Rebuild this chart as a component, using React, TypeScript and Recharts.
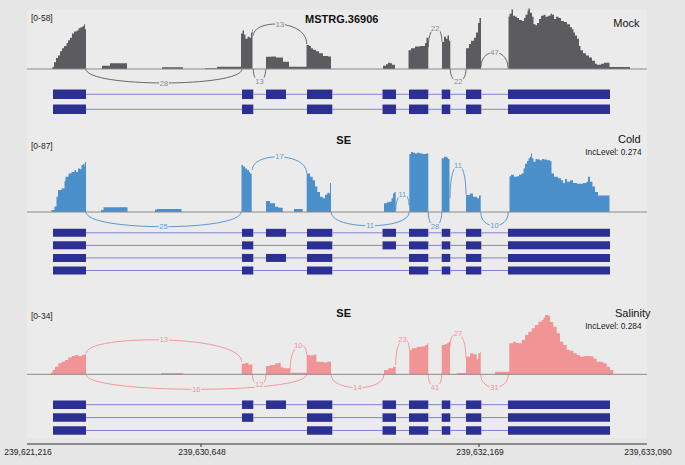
import React from 'react';
import { ComposedChart, Area, XAxis, YAxis, ReferenceArea, ReferenceLine } from 'recharts';

type Pt = [number, number];
type Junction = { x1: number; x2: number; n: number; yL: number; peak: number; yR: number };

// x positions are in the plot's shrunk-intron position units (0..620)
const exons: [number, number][] = [
  [26, 59], [215, 226.3], [239, 259], [280, 305.3], [355.5, 369],
  [382, 401.3], [414.7, 423.3], [439, 454.3], [481, 583],
];

const mockTranscripts = [[1, 2, 3, 4, 5, 6, 7, 8, 9], [1, 2, 4, 5, 6, 7, 8, 9]];
const coldTranscripts = [
  [1, 2, 3, 4, 5, 6, 7, 8, 9], [1, 2, 4, 5, 6, 7, 8, 9],
  [1, 2, 3, 4, 6, 7, 8, 9], [1, 2, 4, 6, 7, 8, 9],
];
const salinityTranscripts = [[1, 2, 3, 4, 5, 6, 7, 8, 9], [1, 2, 4, 5, 6, 7, 8, 9], [1, 4, 5, 6, 7, 8, 9]];

const mockCoverage: Pt[] = [
  [25.5, 2], [27, 6.5], [29, 10.5], [31, 13], [33, 17], [35, 20], [37, 22], [39.5, 25], [41, 27.5], [43, 30],
  [45, 34], [47, 36], [49.5, 37], [51.5, 39], [53.5, 40], [55.5, 41], [57, 43], [58, 38], [59, 0],
  [75, 3], [83, 5.5], [100, 0], [135, 1.6], [156, 0], [178, 0.6], [190, 2.2],
  [214, 34], [215.5, 37], [217, 33], [218.5, 29], [220.5, 31], [222.5, 30], [224, 35], [225, 38], [225.5, 0],
  [239, 11.7], [244, 12], [249, 11], [256, 7], [262, 2.2],
  [279.5, 23], [282, 22], [284, 20], [286, 18.5], [289, 17], [292, 15], [296, 12.5], [301, 12], [304, 0],
  [356, 3], [359, 4.5], [361, 6], [363, 5.5], [365, 4], [368, 0],
  [381.5, 18], [384, 20], [388, 21.5], [393, 22], [398, 25], [399.5, 30], [401.3, 0],
  [415, 26], [417, 31], [419, 29], [420.5, 32], [422, 27], [423.3, 0],
  [439, 20], [442, 24], [444, 27], [447, 30], [449, 35], [451, 44], [452.5, 49], [454, 0],
  [481.5, 50], [482.5, 53], [484.5, 57], [486, 51], [488, 50], [490, 49], [492, 47], [495, 46], [497, 49],
  [498.5, 52], [500.5, 56], [501.5, 58], [503, 54], [505, 50], [506.5, 43], [508.5, 42], [510, 44], [512, 48],
  [514, 51], [516.5, 52], [518.5, 50], [521, 51], [523.5, 53], [525, 52], [527, 48], [529, 50], [531.5, 49],
  [534, 46], [537, 45], [540, 43], [543, 40], [545, 38], [546.5, 35], [548, 32], [550, 29], [552, 22],
  [553.5, 18], [556, 15], [559, 13], [562, 11], [565, 8], [568, 5], [570, 4], [574, 5], [577, 6], [582.5, 1.8], [603, 0],
];

const coldCoverage: Pt[] = [
  [24.5, 3], [27.5, 8], [29.5, 22], [31, 32], [34.5, 34], [37.5, 45], [38.5, 51], [41.5, 56], [44.5, 58],
  [47.5, 61], [49, 58], [51, 63], [53, 62], [54.5, 68], [56, 70], [57.5, 66], [58, 73], [59, 0],
  [74, 3], [76.5, 6.8], [100.5, 0], [128, 3.5], [130, 4.5], [154.5, 0],
  [214.5, 68], [216, 66], [218, 63], [220, 61], [222, 58], [223, 56], [224.7, 0],
  [239, 16], [243, 12.6], [248, 7.7], [251.3, 6.3], [255.7, 0], [267, 4.3], [275.7, 0],
  [279.7, 56], [283, 51], [285.7, 46], [288, 37], [290.3, 29], [293, 22], [295.7, 20], [298, 25], [300.3, 28],
  [302.3, 27], [303, 42], [304, 0],
  [357, 12.6], [360, 14], [362, 15], [364.5, 20], [366, 27], [367.5, 29], [368.7, 0],
  [382.3, 84], [384, 87], [386, 86], [388, 85], [390, 86], [393, 85], [396, 84], [399, 85], [401.3, 0],
  [414.7, 78], [417, 80], [419.5, 79], [421, 77], [422.5, 0],
  [439, 24.6], [443, 27], [446, 22], [450, 20], [452, 24], [453.7, 0],
  [482.5, 52], [484, 54], [487, 51], [490, 52], [492, 54], [494.5, 56], [496.5, 63], [498, 70], [500, 74],
  [501.5, 78], [503, 80], [504, 85], [505, 78], [506.5, 73], [508.5, 77], [510.5, 76], [513, 75], [515, 77],
  [517, 76], [520, 75], [523, 74], [524.5, 56], [527, 51], [531, 49], [534, 46], [536, 42], [538, 48],
  [540, 44], [543, 46], [546, 42], [550, 41], [556, 42], [559.5, 44], [561, 51], [563, 44], [565.5, 37],
  [568, 29], [571, 24], [582.5, 0],
];

const salinityCoverage: Pt[] = [
  [24, 1], [25.7, 2.5], [28, 4.4], [31.3, 6.3], [34.7, 7.2], [38, 8.2], [41.3, 9.7], [44.7, 10.5], [48, 11],
  [51.3, 10.3], [54.7, 11], [58, 11.5], [59, 0], [134, 0.8], [156.3, 0],
  [214.7, 6], [218, 6.5], [221.5, 5.5], [223.5, 5.7], [225.3, 0],
  [239, 4.8], [243, 5.3], [248, 6.2], [251.3, 6.6], [253.7, 4], [256.3, 3.4], [263, 0.9],
  [279.7, 11], [283, 10.8], [286, 11.2], [289.3, 7.2], [293, 7], [297, 6.8], [300, 7.2], [304, 0],
  [357, 2.5], [361.3, 3.4], [366, 4.4], [368.7, 0],
  [382.3, 13.9], [384.7, 14.9], [389.7, 15.8], [394.7, 16], [398, 16.8], [400.3, 17.8], [401.3, 0],
  [414.7, 16.8], [418, 17.3], [420, 17.8], [421.5, 18.5], [423, 0],
  [429.7, 0.8], [439, 10], [443, 12], [446.3, 11.5], [449.7, 8.6], [451.3, 12], [453, 13], [453.7, 0],
  [468, 1.5], [482.3, 17.8], [486.3, 18.7], [489, 18], [491.3, 17.8], [494.7, 19.7], [498, 22.5], [501.3, 24.4],
  [504.7, 26.4], [508, 28.2], [511.3, 30.1], [514.7, 31.1], [516.5, 32.5], [518, 34], [521.3, 33.5], [523, 30],
  [526.3, 27.3], [529.7, 23.5], [533, 18.7], [536.3, 16.8], [539.7, 13.9], [543, 13.5], [546.3, 12], [549.7, 11],
  [553, 10], [556.3, 10.5], [563, 10.3], [566.3, 9], [569.7, 7.2], [576.3, 6.3], [579.7, 4.4], [583, 2.5], [586.3, 0],
];

const mockJunctions: Junction[] = [
  { x1: 59, x2: 215, n: 28, yL: 0, peak: -13.4, yR: 0 },
  { x1: 226.3, x2: 279.7, n: 13, yL: 32, peak: 43, yR: 24 },
  { x1: 226.3, x2: 238.7, n: 13, yL: 0, peak: -11.5, yR: 0 },
  { x1: 401.3, x2: 415, n: 22, yL: 21, peak: 39, yR: 26 },
  { x1: 423.3, x2: 439, n: 22, yL: 0, peak: -12, yR: 0 },
  { x1: 454, x2: 481, n: 47, yL: 2, peak: 16, yR: 1 },
];
const coldJunctions: Junction[] = [
  { x1: 59, x2: 214, n: 25, yL: 0, peak: -21.3, yR: 0 },
  { x1: 225.3, x2: 279.7, n: 17, yL: 61, peak: 80, yR: 56 },
  { x1: 304, x2: 382.3, n: 11, yL: 0, peak: -20, yR: 0 },
  { x1: 368.7, x2: 382, n: 11, yL: 2, peak: 26, yR: 10 },
  { x1: 401.3, x2: 414.7, n: 28, yL: 0, peak: -21, yR: 0 },
  { x1: 423, x2: 439, n: 11, yL: 20, peak: 68, yR: 25 },
  { x1: 453.7, x2: 481.3, n: 10, yL: 0, peak: -20, yR: 0 },
];
const salinityJunctions: Junction[] = [
  { x1: 59, x2: 214.7, n: 13, yL: 12, peak: 19.7, yR: 7.2 },
  { x1: 59, x2: 279.7, n: 16, yL: 0, peak: -8.6, yR: 0 },
  { x1: 225.3, x2: 239, n: 12, yL: 0, peak: -6.1, yR: 0 },
  { x1: 263, x2: 279.7, n: 10, yL: 1.5, peak: 16.5, yR: 11 },
  { x1: 304, x2: 357, n: 14, yL: 0, peak: -7.7, yR: 0 },
  { x1: 368.7, x2: 382.3, n: 23, yL: 5.3, peak: 20, yR: 14 },
  { x1: 401.3, x2: 414.7, n: 41, yL: 0, peak: -7.5, yR: 0 },
  { x1: 423, x2: 439, n: 27, yL: 15.8, peak: 23.5, yR: 9.2 },
  { x1: 453.7, x2: 481.3, n: 31, yL: 0, peak: -7.5, yR: 0 },
];

const axisTicks = [0, 174, 452, 620];
const axisLabels = ['239,621,216', '239,630,648', '239,632,169', '239,633,090'];

const geneName = 'MSTRG.36906';
const sampleNames = ['Mock', 'Cold', 'Salinity'];
const yRanges = [58, 87, 34];
const incLevels = ['', '0.274', '0.284'];

const FONT = '"Liberation Sans", Arial, Helvetica, sans-serif';
const OUTER_BG = '#e7e6e6';
const PANEL_BG = '#ecebeb';
const EXON = '#2c3092';
const INTRON = '#8282d6';

interface PanelCfg {
  top: number; bottom: number; base: number; peakPx: number; ymax: number;
  row0: number; rowGap: number; exonH: number; axis?: boolean;
  coverage: Pt[]; junctions: Junction[]; transcripts: number[][];
  fill: string; arc: string; label: string;
}

function arcShape(j: Junction, color: string, labelColor: string) {
  return (p: any) => {
    const { x, y, width, height } = p;
    if (x == null || y == null) return <g />;
    const up = j.peak > 0;
    const pix0 = up ? y + height : y;
    const pixPeak = up ? y : y + height;
    const per = (pix0 - pixPeak) / j.peak;
    const toPx = (v: number) => pix0 - v * per;
    const xa = x;
    const xb = x + width;
    const ya = toPx(j.yL);
    const yb = toPx(j.yR);
    const ym = pixPeak;
    const c = (8 * ym - ya - yb) / 6;
    const d = `M${xa},${ya} C${xa},${c} ${xb},${c} ${xb},${yb}`;
    const mx = (xa + xb) / 2;
    const label = String(j.n);
    const w = label.length * 3.6 + 2.5;
    return (
      <g>
        <path d={d} fill="none" stroke={color} strokeWidth={0.9} />
        <rect x={mx - w / 2} y={ym - 3.5} width={w} height={7} fill={PANEL_BG} />
        <text x={mx} y={ym} dy="0.34em" textAnchor="middle" fontSize={7.5}
          fontFamily={'"Liberation Sans Narrow", ' + FONT} fill={labelColor}>{label}</text>
      </g>
    );
  };
}

function AxisTick(props: any) {
  const { x, payload, index, axisY } = props;
  const v = payload?.value;
  const label = axisLabels[axisTicks.indexOf(v)] ?? '';
  const interior = index > 0 && index < axisTicks.length - 1;
  return (
    <g>
      {interior && <line x1={x} x2={x} y1={axisY} y2={axisY + 3} stroke="#333" />}
      <text x={x + 1} y={axisY + 5} dy="0.71em" textAnchor="middle" fontSize={8.5} fill="#222" fontFamily={FONT}>{label}</text>
    </g>
  );
}

function Panel({ cfg }: { cfg: PanelCfg }) {
  const k = (cfg.base - cfg.peakPx) / cfg.ymax;
  const plotH = cfg.bottom - cfg.top;
  const covDomain = [-(cfg.bottom - cfg.base) / k, (cfg.base - cfg.top) / k];
  const txDomain = [(cfg.top - cfg.row0) / cfg.rowGap, (cfg.bottom - cfg.row0) / cfg.rowGap];
  const half = cfg.exonH / 2 / cfg.rowGap;
  const data = cfg.coverage.map(([x, v]) => ({ x, v }));
  const axisH = cfg.axis ? 22 : 0;

  const introns: React.ReactNode[] = [];
  const exonRects: React.ReactNode[] = [];
  cfg.transcripts.forEach((tr, r) => {
    for (let i = 0; i < tr.length - 1; i++) {
      const a = exons[tr[i] - 1][1];
      const b = exons[tr[i + 1] - 1][0];
      introns.push(
        <ReferenceLine key={`in-${r}-${i}`} yAxisId="tx" ifOverflow="visible"
          segment={[{ x: a, y: r }, { x: b, y: r }]} stroke={INTRON} strokeWidth={1} />
      );
    }
    tr.forEach((e, i) => {
      const [s, t] = exons[e - 1];
      exonRects.push(
        <ReferenceArea key={`ex-${r}-${i}`} yAxisId="tx" ifOverflow="visible" x1={s} x2={t}
          y1={r - half} y2={r + half} fill={EXON} fillOpacity={1} stroke="none" />
      );
    });
  });

  return (
    <div style={{ position: 'absolute', left: 0, top: cfg.top }}>
      <ComposedChart width={685} height={plotH + axisH} data={data}
        margin={{ top: 0, right: 38, bottom: 0, left: 27 }}>
        <XAxis dataKey="x" type="number" domain={[0, 620]} allowDataOverflow hide={!cfg.axis}
          ticks={axisTicks} interval={0} height={cfg.axis ? axisH : 0}
          tick={(p: any) => <AxisTick {...p} axisY={plotH} />} tickLine={false}
          tickSize={3} tickMargin={3} axisLine={{ stroke: '#333' }} />
        <YAxis yAxisId="cov" type="number" domain={covDomain} allowDataOverflow hide />
        <YAxis yAxisId="tx" type="number" domain={txDomain} allowDataOverflow reversed hide />
        <Area yAxisId="cov" dataKey="v" type="stepAfter" baseValue={0} fill={cfg.fill} fillOpacity={1}
          stroke="none" isAnimationActive={false} dot={false} activeDot={false} />
        <ReferenceLine yAxisId="cov" y={0} stroke="#8a8a8a" strokeWidth={1} />
        {cfg.junctions.map((j, i) => (
          <ReferenceArea key={`j-${i}`} yAxisId="cov" ifOverflow="visible" x1={j.x1} x2={j.x2}
            y1={0} y2={j.peak} shape={arcShape(j, cfg.arc, cfg.label)} />
        ))}
        {introns}
        {exonRects}
      </ComposedChart>
    </div>
  );
}

const panels: PanelCfg[] = [
  {
    top: 0, bottom: 125, base: 69, peakPx: 8.5, ymax: yRanges[0], row0: 94.3, rowGap: 15, exonH: 9.5,
    coverage: mockCoverage, junctions: mockJunctions, transcripts: mockTranscripts,
    fill: '#5c5c60', arc: '#58585c', label: '#8a8a8a',
  },
  {
    top: 125, bottom: 285, base: 212, peakPx: 152, ymax: yRanges[1], row0: 232.8, rowGap: 12.57, exonH: 8,
    coverage: coldCoverage, junctions: coldJunctions, transcripts: coldTranscripts,
    fill: '#4b8fcb', arc: '#4b8fcb', label: '#5f9bd2',
  },
  {
    top: 285, bottom: 444, base: 374.3, peakPx: 315, ymax: yRanges[2], row0: 404.7, rowGap: 12.9, exonH: 8.5,
    axis: true, coverage: salinityCoverage, junctions: salinityJunctions, transcripts: salinityTranscripts,
    fill: '#f09496', arc: '#f08e91', label: '#f09496',
  },
];

const rangeY = [21, 149, 319];
const nameY = [26.7, 143.3, 316.7];
const nameX = [639.5, 640.7, 650.5];
const incY = [0, 154.5, 328.5];
const titleY = [22.7, 144.3, 317.3];

export default function App() {
  return (
    <div style={{ position: 'absolute', left: 0, top: 0, width: 685, height: 465, background: OUTER_BG, overflow: 'hidden' }}>
      <div style={{ position: 'absolute', left: 27, top: 10, width: 620, height: 428, background: PANEL_BG }} />
      {panels.map((p, i) => <Panel key={i} cfg={p} />)}
      <svg width={685} height={465} style={{ position: 'absolute', left: 0, top: 0, pointerEvents: 'none' }}
        fontFamily={FONT}>
        {sampleNames.map((s, i) => (
          <g key={s}>
            <text x={31} y={rangeY[i]} fontSize={8.5} fill="#222">{`[0-${yRanges[i]}]`}</text>
            <text x={nameX[i]} y={nameY[i]} fontSize={11} textAnchor="end" fill="#111">{s}</text>
            {incLevels[i] && (
              <text x={641.5} y={incY[i]} fontSize={8.3} textAnchor="end" fill="#222">{`IncLevel: ${incLevels[i]}`}</text>
            )}
            <text x={i === 0 ? 341.7 : 343.7} y={titleY[i]} fontSize={11} fontWeight="bold" textAnchor="middle" fill="#111">
              {i === 0 ? geneName : 'SE'}
            </text>
          </g>
        ))}
      </svg>
    </div>
  );
}
